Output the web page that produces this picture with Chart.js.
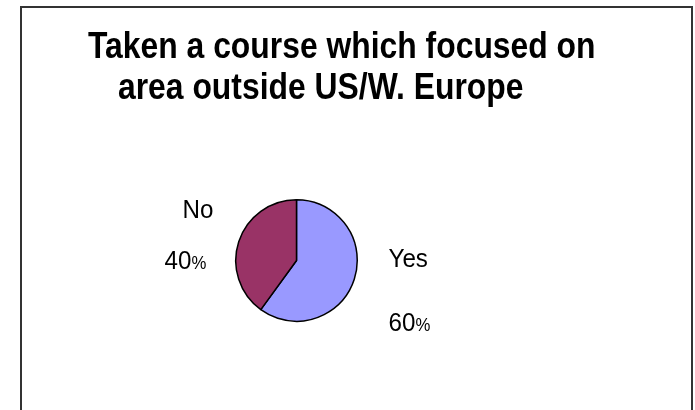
<!DOCTYPE html>
<html>
<head>
<meta charset="utf-8">
<script src="https://cdn.jsdelivr.net/npm/chart.js@4/dist/chart.umd.min.js"></script>
<style>
    html, body { margin: 0; padding: 0; background: #ffffff; }
    #wrap { width: 695px; height: 410px; position: relative; }
</style>
</head>
<body>
<div id="wrap"><canvas id="pieChart" width="695" height="410"></canvas></div>
<script>
const categories = ["Yes", "No"];
const percentages = [60, 40];
const sliceColors = ["#9999ff", "#993366"];
const titleLines = ["Taken a course which focused on", "area outside US/W. Europe"];

// where each label sits, measured from the pie centre (name line, then percent line)
const labelOffsets = {
    Yes: { nameX: 92, nameY: 6, pctX: 92, pctY: 70 },
    No: { nameX: -114, nameY: -43, pctX: -132, pctY: 8 }
};

// the original text is a little narrower than Arial, so squeeze it sideways
function squeezedText(ctx, text, x, y, sx) {
    ctx.save();
    ctx.translate(x, y);
    ctx.scale(sx, 1);
    ctx.fillText(text, 0, 0);
    ctx.restore();
    return ctx.measureText(text).width * sx;
}

const framePlugin = {
    id: "frame",
    beforeDraw(chart) {
        const ctx = chart.ctx;
        ctx.save();
        ctx.fillStyle = "#ffffff";
        ctx.fillRect(0, 0, chart.width, chart.height);
        ctx.strokeStyle = "#333333";
        ctx.lineWidth = 2;
        ctx.beginPath();
        ctx.moveTo(21, chart.height + 5);
        ctx.lineTo(21, 7);
        ctx.lineTo(692, 7);
        ctx.lineTo(692, chart.height + 5);
        ctx.stroke();

        ctx.fillStyle = "#000000";
        ctx.font = "bold 36px 'Liberation Sans', Arial, sans-serif";
        ctx.textBaseline = "alphabetic";
        ctx.textAlign = "left";
        squeezedText(ctx, titleLines[0], 88, 58, 0.885);
        squeezedText(ctx, titleLines[1], 118, 99, 0.885);
        ctx.restore();
    }
};

const labelPlugin = {
    id: "sliceLabels",
    afterDatasetsDraw(chart) {
        const ctx = chart.ctx;
        const arcs = chart.getDatasetMeta(0).data;
        ctx.save();
        ctx.fillStyle = "#000000";
        ctx.textBaseline = "alphabetic";
        ctx.textAlign = "left";
        arcs.forEach((arc, i) => {
            const name = categories[i];
            const off = labelOffsets[name];
            const cx = arc.x;
            const cy = arc.y;
            ctx.font = "26px 'Liberation Sans', Arial, sans-serif";
            squeezedText(ctx, name, cx + off.nameX, cy + off.nameY, 0.93);
            const num = String(percentages[i]);
            const w = squeezedText(ctx, num, cx + off.pctX, cy + off.pctY, 0.93);
            ctx.font = "18px 'Liberation Sans', Arial, sans-serif";
            squeezedText(ctx, "%", cx + off.pctX + w, cy + off.pctY, 0.93);
        });
        ctx.restore();
    }
};

const pieChart = new Chart(document.getElementById("pieChart"), {
    type: "pie",
    data: {
        labels: categories,
        datasets: [
            {
                data: percentages,
                backgroundColor: sliceColors,
                borderColor: "#000000",
                borderWidth: 1.5
            }
        ]
    },
    options: {
        responsive: false,
        animation: false,
        devicePixelRatio: 1,
        layout: {
            padding: { left: 234, right: 336, top: 199, bottom: 88 }
        },
        plugins: {
            legend: { display: false },
            title: { display: false },
            tooltip: { enabled: false }
        }
    },
    plugins: [framePlugin, labelPlugin]
});
</script>
</body>
</html>
